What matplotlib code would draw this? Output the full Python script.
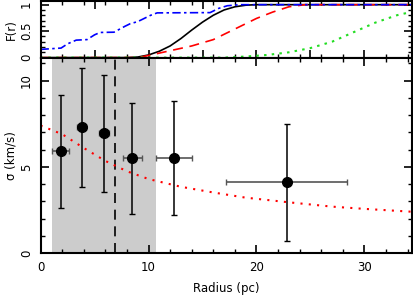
# sigma profile with cumulative F(r) panel on top

import matplotlib.pyplot as plt
from matplotlib.ticker import MultipleLocator

plt.rcParams['font.family'] = ['DejaVu Sans']
plt.rcParams['font.size'] = 8.5

# measured dispersion points
r_pts = [1.85, 3.8, 5.9, 8.5, 12.4, 22.8]
sig_pts = [5.9, 7.3, 6.95, 5.5, 5.5, 4.1]
r_err = [0.8, 0.45, 0.45, 0.85, 1.67, 5.6]
sig_err = [3.3, 3.45, 3.4, 3.2, 3.3, 3.37]

# model curve (red dotted)
r_model = [0, 2, 4, 6, 8, 10, 13, 16, 19, 23, 27, 30, 34.5]
sig_model = [7.4, 6.9, 6.1, 5.35, 4.75, 4.3, 3.85, 3.52, 3.22, 2.95, 2.7, 2.57, 2.4]

# shaded region and core radius
shade_lo, shade_hi = 1.1, 10.7
r_core = 6.9

# cumulative curves F(r)
r_black = [0, 8, 9, 10, 11, 12, 13, 14, 15, 16, 17, 18, 19, 20, 34.5]
f_black = [0, 0, 0.01, 0.05, 0.12, 0.22, 0.36, 0.52, 0.67, 0.8, 0.9, 0.96, 0.99, 1, 1]
r_red = [0, 9, 10, 12, 14, 16, 18, 20, 21.5, 23, 24.5, 34.5]
f_red = [0, 0, 0.04, 0.13, 0.22, 0.34, 0.54, 0.74, 0.86, 0.96, 1, 1]
r_green = [0, 17, 19, 21, 23, 25, 27, 29, 31, 33, 34.5]
f_green = [0, 0, 0.02, 0.05, 0.1, 0.18, 0.3, 0.48, 0.66, 0.8, 0.87]
r_blue = [0, 1.9, 2.5, 3.3, 4.3, 5.0, 5.5, 6.8, 7.8, 8.3, 9.0, 9.7, 10.2, 10.8,
          15.7, 16.5, 17.3, 18.5, 34.5]
f_blue = [0.155, 0.18, 0.26, 0.33, 0.34, 0.43, 0.475, 0.48, 0.59, 0.64, 0.68,
          0.75, 0.8, 0.845, 0.85, 0.93, 0.98, 1.0, 1.0]

fig = plt.figure(figsize=(4.14, 3.0), dpi=100)
ax_top = fig.add_axes([0.098, 0.808, 0.897, 0.187])
ax = fig.add_axes([0.098, 0.156, 0.897, 0.652])

# top panel
ax_top.plot(r_black, f_black, color='black', lw=1.2)
ax_top.plot(r_red, f_red, color='red', lw=1.2, dashes=(6, 4))
ax_top.plot(r_green, f_green, color='#22dd22', lw=1.5, dashes=(1.2, 2.5))
ax_top.plot(r_blue, f_blue, color='blue', lw=1.2, dashes=(5, 2, 1.5, 2))
ax_top.set_xlim(0, 34.4)
ax_top.set_ylim(0, 1.06)
ax_top.set_yticks([0, 0.5, 1])
ax_top.set_yticklabels(['0', '0.5', '1'], rotation=90, va='center')
ax_top.yaxis.set_minor_locator(MultipleLocator(0.1))
ax_top.set_xticklabels([])
ax_top.set_ylabel('F(r)')
ax_top.yaxis.set_label_coords(-0.062, 0.5)

# bottom panel
ax.axvspan(shade_lo, shade_hi, color='#cccccc', lw=0)
ax.axvline(r_core, color='black', lw=1.2, dashes=(6, 4))
ax.plot(r_model, sig_model, color='red', lw=1.5, dashes=(1, 3))
ax.errorbar(r_pts, sig_pts, xerr=r_err, fmt='none', ecolor='#555555',
            elinewidth=1.2, capsize=2.5)
ax.errorbar(r_pts, sig_pts, yerr=sig_err, fmt='o', color='black',
            ecolor='black', elinewidth=1.1, capsize=2.5, markersize=7)
ax.set_xlim(0, 34.4)
ax.set_ylim(0, 11.34)
ax.set_xticks([0, 10, 20, 30])
ax.set_yticks([0, 5, 10])
ax.set_yticklabels(['0', '5', '10'], rotation=90, va='center')
ax.yaxis.set_minor_locator(MultipleLocator(1))
ax.set_xlabel('Radius (pc)', labelpad=6)
ax.set_ylabel('\u03c3 (km/s)')
ax.yaxis.set_label_coords(-0.062, 0.5)

for a in (ax_top, ax):
    a.xaxis.set_minor_locator(MultipleLocator(2))
    a.tick_params(which='both', direction='in', top=True, right=True)
    a.tick_params(which='major', length=6, width=1.2, pad=5.5)
    a.tick_params(which='minor', length=3, width=1)
    for s in a.spines.values():
        s.set_linewidth(1.5)

fig.savefig('out.png', dpi=100)
